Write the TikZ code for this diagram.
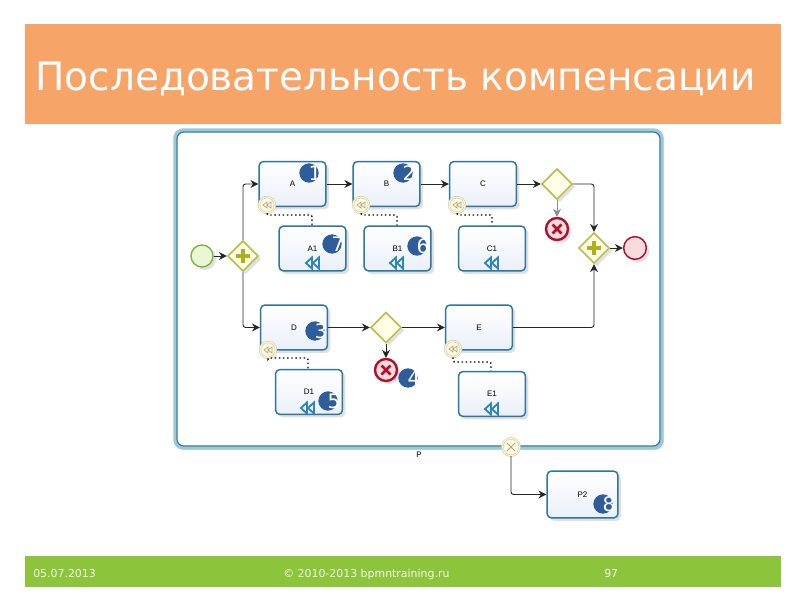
\documentclass[tikz,border=0pt]{standalone}
\usepackage{fontspec}
\setmainfont{DejaVu Sans}
\newfontfamily\labelfont{Liberation Sans}
\usetikzlibrary{arrows.meta,shapes.geometric,shadows}
\definecolor{bandorange}{HTML}{F7A468}
\definecolor{bandgreen}{HTML}{8CC43C}
\definecolor{taskblue}{HTML}{2F759F}
\definecolor{poolout}{HTML}{9CC8DE}
\definecolor{taskfill}{HTML}{EAF0F9}
\definecolor{numblue}{HTML}{2F5C9B}
\definecolor{gateline}{HTML}{B9BC45}
\definecolor{gatefill}{HTML}{FFFFE8}
\definecolor{plusolive}{HTML}{AFAF1E}
\definecolor{startline}{HTML}{7FAF3A}
\definecolor{startfill}{HTML}{EAF7D5}
\definecolor{endred}{HTML}{B01030}
\definecolor{endfill}{HTML}{F8DCDC}
\definecolor{badgeline}{HTML}{D8CFA0}
\definecolor{badgefill}{HTML}{FBF8E6}
\definecolor{iconblue}{HTML}{2F85B5}
\definecolor{badgeicon}{HTML}{B5A878}
\tikzset{
  softshadow/.style={drop shadow={shadow xshift=2.2pt,shadow yshift=-2.2pt,opacity=.2,fill=black!60}},
  taskbox/.style={draw=taskblue,line width=1.1pt,rounded corners=3pt,top color=white,bottom color=taskfill,
    minimum width=50pt,minimum height=33.5pt,inner sep=0pt,font=\labelfont\fontsize{6}{7}\selectfont,softshadow},
  gateway/.style={diamond,aspect=1,draw=gateline,line width=1.1pt,fill=gatefill,minimum size=23pt,inner sep=0pt,softshadow},
  startev/.style={circle,draw=startline,line width=1pt,fill=startfill,minimum size=16.5pt,inner sep=0pt,softshadow},
  endev/.style={circle,draw=endred,line width=1.1pt,fill=endfill,minimum size=17pt,inner sep=0pt,softshadow},
  errorev/.style={circle,draw=endred,line width=1.8pt,fill=endfill,minimum size=16.5pt,inner sep=0pt,softshadow},
  badge/.style={circle,double=badgefill,double distance=.7pt,draw=badgeline,line width=.5pt,fill=badgefill,minimum size=12pt,inner sep=0pt},
  numdot/.style={circle,fill=numblue,minimum size=14.5pt,inner sep=0pt},
  numdigit/.style={text=white,font=\fontsize{15}{16}\selectfont,inner sep=0pt},
  flow/.style={draw=black!85,line width=.7pt,rounded corners=2pt,-{Stealth[length=6pt,width=6pt]}},
  assoc/.style={draw=black,line width=1.1pt,dotted,rounded corners=1pt},
  bandtext/.style={text=white,inner sep=0pt},
  foottext/.style={text=white!88!bandgreen,inner sep=0pt,font=\fontsize{8.2}{9}\selectfont},
}
\newcommand{\rewindicon}[4]{% x y colour width
  \draw[#3,line width=#4,line join=miter] (#1-7,#2) -- (#1-1,#2-5.5) -- (#1-1,#2+5.5) -- cycle
    (#1,#2) -- (#1+6,#2-5.5) -- (#1+6,#2+5.5) -- cycle;}
\newcommand{\gatewayplus}[2]{%
  \draw[plusolive,line width=2.7pt] (#1-7,#2) -- (#1+7,#2) (#1,#2-7) -- (#1,#2+7);}
\newcommand{\errorx}[2]{%
  \draw[endred,line width=2.1pt] (#1-4.5,#2-4.5) -- (#1+4.5,#2+4.5) (#1-4.5,#2+4.5) -- (#1+4.5,#2-4.5);}
\begin{document}
\begin{tikzpicture}[x=.75pt,y=-.75pt]
\useasboundingbox[fill=white] (0,0) rectangle (800,600);
% bands
\fill[bandorange] (25,24) rectangle (781,124);
\fill[bandgreen] (25,556) rectangle (781,587);
\node[bandtext,font=\fontsize{29.3}{34}\selectfont] (title) at (395.5,79) {Последовательность компенсации};
\node[foottext,anchor=base west] (date) at (33,577) {05.07.2013};
\node[foottext,anchor=base west] (copy) at (283,577) {© 2010-2013 bpmntraining.ru};
\node[foottext,anchor=base west] (page) at (604,577) {97};
% pool
\draw[poolout,line width=2.4pt,rounded corners=6pt,fill=white,drop shadow={shadow xshift=1.5pt,shadow yshift=-1.5pt,opacity=.2,fill=black!60}] (175,130) rectangle (662,448);
\draw[taskblue,line width=.9pt,rounded corners=5pt] (177,132) rectangle (660,446);
\node[font=\labelfont\fontsize{6}{7}\selectfont,inner sep=0pt] (plabel) at (419,455) {P};
% tasks
\node[taskbox] (A) at (292.5,184) {A};
\node[taskbox] (B) at (386.5,184) {B};
\node[taskbox] (C) at (483,184) {C};
\node[taskbox] (A1) at (312.5,248.5) {A1};
\node[taskbox] (B1) at (397.5,248.5) {B1};
\node[taskbox] (C1) at (492,248.5) {C1};
\node[taskbox] (D) at (294,327.5) {D};
\node[taskbox] (D1) at (309,392) {D1};
\node[taskbox] (E) at (479,327.5) {E};
\node[taskbox] (E1) at (492,394) {E1};
\node[taskbox,minimum width=53pt,minimum height=35pt] (P2) at (582.5,494.5) {P2};
% events and gateways
\node[startev] (start) at (202,256) {};
\node[gateway] (split) at (243,256) {};
\gatewayplus{243}{256}
\node[gateway] (g1) at (557,184) {};
\node[errorev] (err1) at (557,229) {};
\errorx{557}{229}
\node[gateway] (join) at (594,248) {};
\gatewayplus{594}{248}
\node[endev] (stop) at (635,248) {};
\node[gateway] (g2) at (386,327.5) {};
\node[errorev] (err2) at (386,370) {};
\errorx{386}{370}
% boundary badges
\node[badge] (bA) at (267,205) {};
\node[badge] (bB) at (361,205) {};
\node[badge] (bC) at (457,205) {};
\node[badge] (bD) at (268,350) {};
\node[badge] (bE) at (453,349) {};
\node[badge,minimum size=13pt] (bP) at (511,447) {};
\foreach \bx/\by in {267/205,361/205,457/205,268/350,453/349}
  \draw[badgeicon,line width=.5pt] (\bx-4,\by) -- (\bx,\by-3) -- (\bx,\by+3) -- cycle (\bx,\by) -- (\bx+4,\by-3) -- (\bx+4,\by+3) -- cycle;
\draw[badgeicon,line width=.6pt] (507,443) -- (515,451) (507,451) -- (515,443);
% sequence flows
\draw[flow] (start) -- (split);
\draw[flow] (split.north) |- (A.west);
\draw[flow] (split.south) |- (D.west);
\draw[flow] (A) -- (B);
\draw[flow] (B) -- (C);
\draw[flow] (C) -- (g1);
\draw[flow] (g1.east) -| (join.north);
\draw[flow,draw=black!45] (g1.south) -- (err1.north);
\draw[flow] (E.east) -| (join.south);
\draw[flow] (join) -- (stop);
\draw[flow] (D) -- (g2);
\draw[flow] (g2) -- (E);
\draw[flow] (g2.south) -- (err2.north);
\draw[flow] (bP.south) |- (P2.west);
% associations
\coordinate (hA) at (312,215);
\coordinate (hB) at (397,215);
\coordinate (hC) at (492,215);
\coordinate (hD) at (308,358);
\coordinate (hE) at (491,362);
\draw[assoc] (bA.south) |- (hA) -- (hA |- A1.north);
\draw[assoc] (bB.south) |- (hB) -- (hB |- B1.north);
\draw[assoc] (bC.south) |- (hC) -- (hC |- C1.north);
\draw[assoc] (bD.south) |- (hD) -- (hD |- D1.north);
\draw[assoc] (bE.south) |- (hE) -- (hE |- E1.north);
% compensation markers
\rewindicon{313}{263}{iconblue}{1.4pt}
\rewindicon{397}{263}{iconblue}{1.4pt}
\rewindicon{492}{263}{iconblue}{1.4pt}
\rewindicon{308}{408}{iconblue}{1.4pt}
\rewindicon{492}{409}{iconblue}{1.4pt}
% numbers
\foreach \nm/\nx/\ny/\dg in {n1/309/173/1,n2/403/173/2,n3/315/331/3,n4/408/378/4,n5/328/401/5,n6/417/246/6,n7/332/244/7,n8/603/504/8}{
  \node[numdot] (\nm) at (\nx,\ny) {};
  \node[numdigit] at (\nx+6,\ny) {\dg};
}
\end{tikzpicture}
\end{document}
